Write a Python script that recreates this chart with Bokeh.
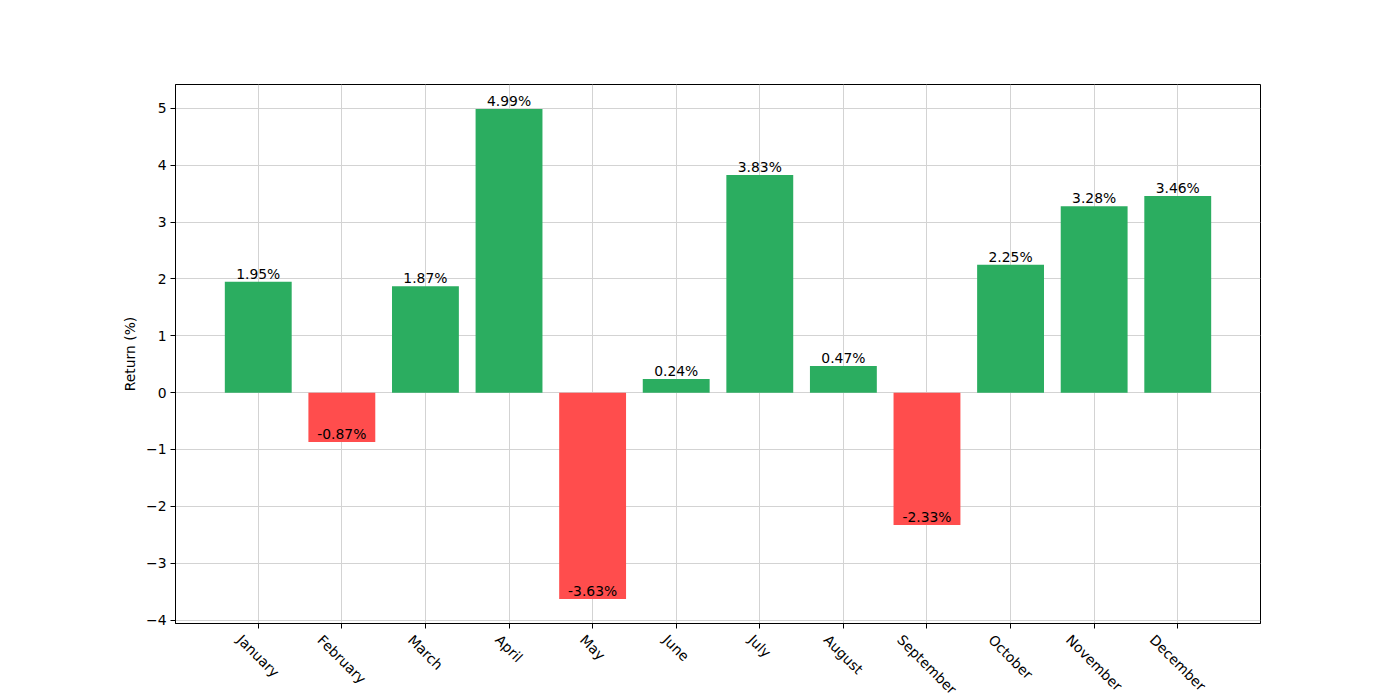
import math
from bokeh.plotting import figure
from bokeh.layouts import column
from bokeh.models import Range1d, FixedTicker, ColumnDataSource, LabelSet
from bokeh.core.properties import value
from bokeh.embed import file_html
from bokeh.resources import INLINE

months = ["January", "February", "March", "April", "May", "June", "July",
          "August", "September", "October", "November", "December"]
returns = [1.95, -0.87, 1.87, 4.99, -3.63, 0.24, 3.83, 0.47, -2.33, 2.25, 3.28, 3.46]
y_ticks = [-4, -3, -2, -1, 0, 1, 2, 3, 4, 5]

GREEN = "#2bad60"
RED = "#ff4d4d"
FONT = "DejaVu Sans"
FS_PX = 13.9
FS = f"{FS_PX}px"

# DejaVu Sans advance widths (per 1000 em), used to place rotated labels like matplotlib
ADV = {"a": 613, "b": 635, "c": 550, "d": 635, "e": 615, "g": 635, "h": 634, "i": 278,
       "l": 278, "m": 974, "n": 634, "o": 612, "p": 635, "r": 411, "s": 521, "t": 392,
       "u": 634, "v": 592, "y": 592, "A": 684, "D": 770, "F": 575, "J": 295, "M": 863,
       "N": 748, "O": 787, "S": 635}


def text_width(s):
    return sum(ADV.get(ch, 600) for ch in s) / 1000.0 * FS_PX


xs = list(range(len(months)))
colors = [GREEN if r >= 0 else RED for r in returns]
labels = [f"{r:.2f}%" for r in returns]

span_lo = min(min(returns), 0)
span_hi = max(max(returns), 0)
pad = (span_hi - span_lo) * 0.05
xpad = (len(months) - 1 + 0.8) * 0.05

src = ColumnDataSource(dict(x=xs, top=returns, color=colors, label=labels))

MAIN_H = 629
p = figure(width=1400, height=MAIN_H, output_backend="svg", toolbar_location=None,
           x_range=Range1d(-0.4 - xpad, len(months) - 1 + 0.4 + xpad),
           y_range=Range1d(span_lo - pad, span_hi + pad),
           min_border_left=175, min_border_right=140, min_border_top=84, min_border_bottom=6)

p.vbar(x="x", top="top", bottom=0, width=0.8, color="color", line_color=None, source=src)

p.add_layout(LabelSet(x="x", y="top", text="label", source=src, text_align="center",
                      text_baseline="bottom", y_offset=0, text_font=value(FONT),
                      text_font_size=value(FS), text_color="black"))

# x axis: ticks only (month names are drawn in the strip below)
p.xaxis.ticker = FixedTicker(ticks=xs)
p.xaxis.major_label_overrides = {i: "" for i in xs}
p.xaxis.major_label_text_font_size = "0px"
p.xaxis.major_label_standoff = 0

p.yaxis.ticker = FixedTicker(ticks=y_ticks)
p.yaxis.major_label_overrides = {t: (f"\u2212{abs(t)}" if t < 0 else str(t)) for t in y_ticks}
p.yaxis.axis_label = "Return (%)"
p.yaxis.axis_label_text_font = FONT
p.yaxis.axis_label_text_font_size = FS
p.yaxis.axis_label_text_font_style = "normal"
p.yaxis.axis_label_text_color = "black"
p.yaxis.axis_label_standoff = 5
p.yaxis.major_label_text_font = FONT
p.yaxis.major_label_text_font_size = FS
p.yaxis.major_label_text_color = "black"
p.yaxis.major_label_standoff = 4

for ax in (p.xaxis, p.yaxis):
    ax.major_tick_in = 0
    ax.major_tick_out = 5
    ax.minor_tick_line_color = None
    ax.axis_line_color = "black"
    ax.major_tick_line_color = "black"

p.grid.grid_line_color = "#d3d3d3"
p.grid.grid_line_width = 1
p.outline_line_color = "black"
p.outline_line_width = 1
p.background_fill_color = "white"
p.border_fill_color = "white"

# strip below the plot: rotated month labels, bbox top aligned, centred on tick
STRIP_H = 700 - MAIN_H
LABEL_TOP = 631
LINE_H = 1.164 * FS_PX
s45 = math.sin(math.pi / 4)
centers = [LABEL_TOP + (text_width(m) + LINE_H) * s45 / 2 - MAIN_H for m in months]

p2 = figure(width=1400, height=STRIP_H, output_backend="svg", toolbar_location=None,
            x_range=p.x_range, y_range=Range1d(STRIP_H, 0),
            min_border_left=175, min_border_right=140, min_border_top=0, min_border_bottom=0)
p2.axis.visible = False
p2.grid.visible = False
p2.outline_line_color = None
p2.background_fill_color = "white"
p2.border_fill_color = "white"

month_src = ColumnDataSource(dict(x=xs, month=months, cy=centers))
p2.text(x="x", y="cy", text="month", source=month_src, angle=-math.pi / 4,
        text_align="center", text_baseline="middle", text_font=value(FONT),
        text_font_size=value(FS), text_color="black")

layout = column(p, p2, spacing=0)
open("out.html", "w").write(file_html(layout, INLINE))
